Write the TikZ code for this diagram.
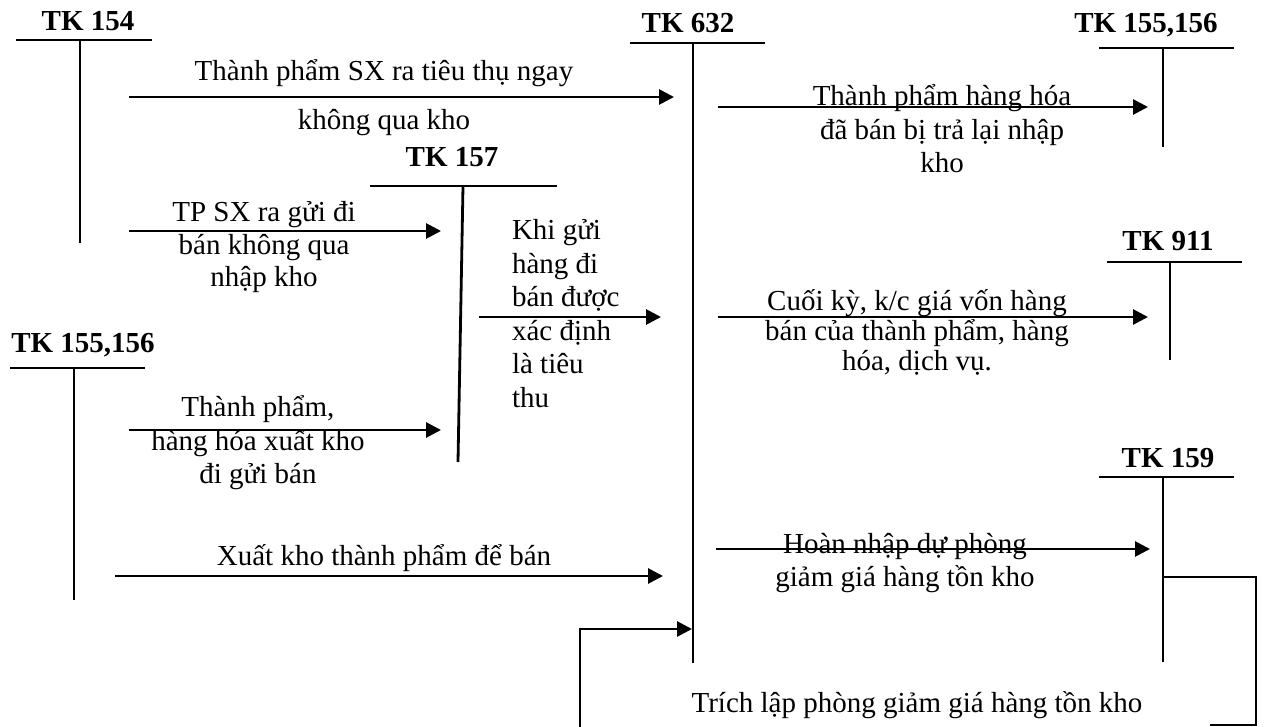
\documentclass[tikz,border=0pt]{standalone}
\usepackage{fontspec}
\setmainfont{Liberation Serif}
\usetikzlibrary{arrows.meta}
\newcommand\ctext[2][33.5]{\vtop{\baselineskip=#1pt\halign{\hfil##\hfil\cr#2\crcr}}}
\newcommand\ltext[2][33.5]{\vtop{\baselineskip=#1pt\halign{##\hfil\cr#2\crcr}}}
\begin{document}
\begin{tikzpicture}[x=1pt,y=-1pt,
  every node/.style={inner sep=0pt, outer sep=0pt, font=\fontsize{29}{33.5}\selectfont},
  acct/.style={font=\fontsize{29}{33.5}\selectfont\bfseries, anchor=base},
  lbl/.style={anchor=base},
  tline/.style={line width=2.8pt},
  flow/.style={line width=2.8pt, -{Triangle[length=15pt,width=15pt]}},
  plain/.style={line width=2.4pt}
]
\useasboundingbox (0,0) rectangle (1267,727);

% ---------- T accounts ----------
\node[acct] (tk154) at (88,31) {TK 154};
\coordinate (a154l) at (16,40); \coordinate (a154r) at (152,40);
\coordinate (a154t) at (80,40); \coordinate (a154b) at (80,243);
\draw[tline] (a154l) -- (a154r); \draw[tline] (a154t) -- (a154b);

\node[acct] (tk632) at (688,33) {TK 632};
\coordinate (a632l) at (630,43); \coordinate (a632r) at (765,43);
\coordinate (a632t) at (693,43); \coordinate (a632b) at (693,663);
\draw[tline] (a632l) -- (a632r); \draw[tline] (a632t) -- (a632b);

\node[acct] (tk155r) at (1146,33) {TK 155,156};
\coordinate (a155rl) at (1099,48); \coordinate (a155rr) at (1234,48);
\coordinate (a155rt) at (1163,48); \coordinate (a155rb) at (1163,147);
\draw[tline] (a155rl) -- (a155rr); \draw[tline] (a155rt) -- (a155rb);

\node[acct] (tk157) at (452,167) {TK 157};
\coordinate (a157l) at (370,186); \coordinate (a157r) at (557,186);
\coordinate (a157t) at (463,186); \coordinate (a157b) at (458,462);
\draw[tline] (a157l) -- (a157r); \draw[tline] (a157t) -- (a157b);

\node[acct] (tk911) at (1168,251) {TK 911};
\coordinate (a911l) at (1107,262); \coordinate (a911r) at (1242,262);
\coordinate (a911t) at (1170,262); \coordinate (a911b) at (1170,360);
\draw[tline] (a911l) -- (a911r); \draw[tline] (a911t) -- (a911b);

\node[acct] (tk155l) at (83,353) {TK 155,156};
\coordinate (a155ll) at (10,368); \coordinate (a155lr) at (145,368);
\coordinate (a155lt) at (74,368); \coordinate (a155lb) at (74,600);
\draw[tline] (a155ll) -- (a155lr); \draw[tline] (a155lt) -- (a155lb);

\node[acct] (tk159) at (1168,467) {TK 159};
\coordinate (a159l) at (1099,477); \coordinate (a159r) at (1234,477);
\coordinate (a159t) at (1163,477); \coordinate (a159b) at (1163,662);
\draw[tline] (a159l) -- (a159r); \draw[tline] (a159t) -- (a159b);

% ---------- arrows ----------
\coordinate (f1s) at (129,97);  \coordinate (f1e) at (674,97);
\draw[flow] (f1s) -- (f1e);
\node[lbl] (t1a) at (384,81) {Thành phẩm SX ra tiêu thụ ngay};
\node[lbl] (t1b) at (384,130) {không qua kho};

\coordinate (f2s) at (718,107); \coordinate (f2e) at (1148,107);
\draw[flow] (f2s) -- (f2e);
\node[lbl] (t2) at (942,106) {\ctext{Thành phẩm hàng hóa\cr đã bán bị trả lại nhập\cr kho}};

\coordinate (f3s) at (129,231); \coordinate (f3e) at (441,231);
\draw[flow] (f3s) -- (f3e);
\node[lbl] (t3) at (264,222) {\ctext[32.5]{TP SX ra gửi đi\cr bán không qua\cr nhập kho}};

\coordinate (f4s) at (479,317); \coordinate (f4e) at (661,317);
\draw[flow] (f4s) -- (f4e);
\node[anchor=base west] (t4) at (512,240) {\ltext{Khi gửi\cr hàng đi\cr bán được\cr xác định\cr là tiêu\cr thu}};

\coordinate (f5s) at (718,317); \coordinate (f5e) at (1148,317);
\draw[flow] (f5s) -- (f5e);
\node[lbl] (t5) at (917,311) {\ctext[30]{Cuối kỳ, k/c giá vốn hàng\cr bán của thành phẩm, hàng\cr hóa, dịch vụ.}};

\coordinate (f6s) at (129,430); \coordinate (f6e) at (441,430);
\draw[flow] (f6s) -- (f6e);
\node[lbl] (t6) at (258,417) {\ctext{Thành phẩm,\cr hàng hóa xuất kho\cr đi gửi bán}};

\coordinate (f7s) at (115,576); \coordinate (f7e) at (663,576);
\draw[flow] (f7s) -- (f7e);
\node[lbl] (t7) at (384,565) {Xuất kho thành phẩm để bán};

\coordinate (f8s) at (716,549); \coordinate (f8e) at (1150,549);
\draw[flow] (f8s) -- (f8e);
\node[lbl] (t8) at (905,553) {\ctext{Hoàn nhập dự phòng\cr giảm giá hàng tồn kho}};

% ---------- provision loop ----------
\coordinate (l1) at (1163,577); \coordinate (l2) at (1256,577);
\coordinate (l3) at (1256,725); \coordinate (l4) at (1210,725);
\draw[plain] (l1) -- (l2) -- (l3) -- (l4);
\coordinate (m1) at (580,727); \coordinate (m2) at (580,629);
\coordinate (m3) at (692,629);
\draw[flow] (m1) -- (m2) -- (m3);
\node[lbl] (t9) at (917,712) {Trích lập phòng giảm giá hàng tồn kho};
\end{tikzpicture}
\end{document}
